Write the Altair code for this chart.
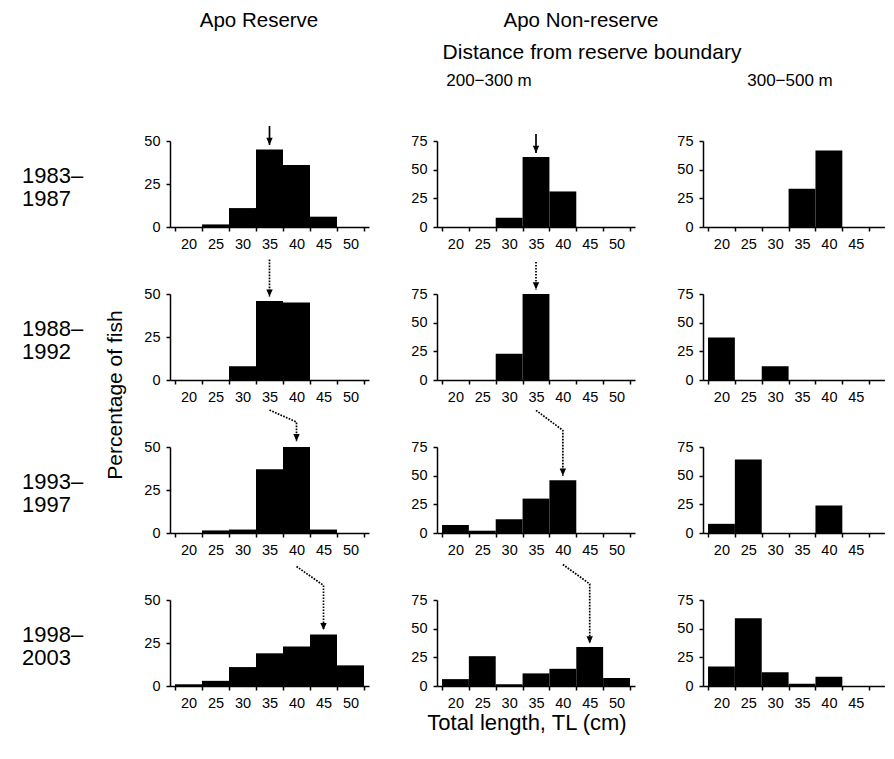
import altair as alt
import pandas as pd

FONT = "Liberation Sans"

bins = [20, 25, 30, 35, 40, 45, 50]
periods = ["1983–\n1987", "1988–\n1992", "1993–\n1997", "1998–\n2003"]

# percentage of fish per 5-cm TL class, one list per period
reserve = [
    [0, 1.5, 11, 45, 36, 6, 0],
    [0, 0, 8, 46, 45, 0, 0],
    [0, 1.5, 2, 37, 52, 2, 0],
    [1, 3, 11, 19, 23, 30, 12],
]
nr_200_300 = [
    [0, 0, 8, 61, 31, 0, 0],
    [0, 0, 23, 75, 0, 0, 0],
    [7, 2, 12, 30, 46, 0, 0],
    [6, 26, 1.5, 11, 15, 34, 7],
]
nr_300_500 = [
    [0, 0, 0, 33.3, 66.7, 0, 0],
    [37, 0, 12, 0, 0, 0, 0],
    [8, 64, 0, 0, 24, 0, 0],
    [17, 59, 12, 2, 8, 0, 0],
]

y_max = [50, 75, 75]
y_ticks = [[0, 25, 50], [0, 25, 50, 75], [0, 25, 50, 75]]
# the right-hand column is cropped at the picture's edge
x_domain = [[17.5, 52.5], [17.5, 52.5], [17.5, 49.4]]
PX_PER_CM = 5.686

# modal-class arrows: (x points, y points, dotted)
arrows_reserve = [
    ([35, 35], [58.7, 47.7], False),
    ([35, 35], [70, 48.5], True),
    ([35, 40, 40], [71.5, 64.5, 53.4], True),
    ([40, 45, 45], [69.5, 58.5, 32.5], True),
]
arrows_nr = [
    ([35, 35], [81, 64.6], False),
    ([35, 35], [103, 79], True),
    ([35, 40, 40], [107, 89.5, 49.9], True),
    ([40, 45, 45], [106, 89, 37], True),
]

PANEL_H = 86
ARROW_HEAD = "M -0.8 -1.8 L 0.8 -1.8 L 0 0 Z"


def text_layer(txt, x, y, size, align="center", angle=0, baseline="middle",
               line_height=22.5):
    kw = dict(fontSize=size, font=FONT, align=align, baseline=baseline,
              color="black", lineBreak="\n", lineHeight=line_height)
    if angle:
        kw["angle"] = angle
    return alt.Chart(pd.DataFrame({"t": [txt]})).mark_text(**kw).encode(
        text="t:N", x=alt.value(x), y=alt.value(y)
    )


def panel(values, col, width, arrow=None, texts=()):
    df = pd.DataFrame({
        "lo": [b - 2.5 for b in bins],
        "hi": [b + 2.5 for b in bins],
        "pct": values,
    })
    lo_d, hi_d = x_domain[col]
    tick_vals = [17.5 + 2.5 * i for i in range(15) if 17.5 + 2.5 * i <= hi_d]
    xscale = alt.Scale(domain=[lo_d, hi_d], nice=False, zero=False)
    yscale = alt.Scale(domain=[0, y_max[col]], nice=False)
    xaxis = alt.Axis(
        values=tick_vals,
        labelExpr="datum.value % 5 == 0 ? '' + datum.value : ''",
        tickOpacity={"condition": {"test": "datum.value % 5 == 0", "value": 0}, "value": 1},
        tickSize=4, labelPadding=6, labelFlush=False, labelOverlap=False,
        labelFontSize=14.5, grid=False, title=None,
    )
    yaxis = alt.Axis(values=y_ticks[col], tickSize=4, labelPadding=6,
                     labelFontSize=14.5, grid=False, title=None, labelFlush=False)
    layers = [
        alt.Chart(df).mark_bar(color="black", strokeWidth=0, orient="vertical",
                               clip=True).encode(
            x=alt.X("lo:Q", scale=xscale, axis=xaxis),
            x2="hi:Q",
            y=alt.Y("pct:Q", scale=yscale, axis=yaxis),
            y2=alt.datum(0),
        )
    ]
    if arrow is not None:
        xs, ys, dotted = arrow
        adf = pd.DataFrame({"ax": xs, "ay": ys, "o": list(range(len(xs)))})
        line_kw = dict(color="black", strokeWidth=1.7)
        if dotted:
            line_kw["strokeDash"] = [1.7, 1.3]
        layers.append(
            alt.Chart(adf).mark_line(**line_kw).encode(
                x=alt.X("ax:Q", scale=xscale, axis=xaxis),
                y=alt.Y("ay:Q", scale=yscale, axis=yaxis),
                order="o:Q",
            )
        )
        hdf = adf.tail(1)
        layers.append(
            alt.Chart(hdf).mark_point(shape=ARROW_HEAD, filled=True, size=64,
                                      color="black", opacity=1).encode(
                x=alt.X("ax:Q", scale=xscale, axis=xaxis),
                y=alt.Y("ay:Q", scale=yscale, axis=yaxis),
            )
        )
    layers.extend(texts)
    return alt.layer(*layers).properties(width=width, height=PANEL_H)


widths = [199, 198, round((x_domain[2][1] - x_domain[2][0]) * PX_PER_CM, 1)]

panels = []
for r in range(4):
    t1 = [text_layer(periods[r], -148, 35, 22, align="left")]
    t2 = []
    t3 = []
    if r == 0:
        t1.append(text_layer("Apo Reserve", 89, -120, 20.5))
        t2.append(text_layer("Apo Non-reserve", 144, -120, 20.5))
        t2.append(text_layer("Distance from reserve boundary", 155, -88, 21))
        t2.append(text_layer("200−300 m", 52, -60, 17))
        t3.append(text_layer("300−500 m", 87, -60, 17))
    if r == 1:
        t1.append(text_layer("Percentage of fish", -54, 101, 21, angle=270))
    if r == 3:
        t2.append(text_layer("Total length, TL (cm)", 90, 123, 22))
    panels.append(panel(reserve[r], 0, widths[0], arrows_reserve[r], t1))
    panels.append(panel(nr_200_300[r], 1, widths[1], arrows_nr[r], t2))
    panels.append(panel(nr_300_500[r], 2, widths[2], None, t3))

chart = (
    alt.concat(*panels, columns=3, spacing={"row": 67, "column": 68},
               bounds="flush", align="each")
    .properties(padding={"left": 14, "top": 3, "right": 0, "bottom": 5},
                background="white")
    .configure_view(stroke=None)
    .configure_axis(
        domainColor="black", domainWidth=1.5, tickColor="black", tickWidth=1.5,
        labelColor="black", labelFont=FONT, labelFontSize=14.5,
    )
)

chart.save("out.html", embed_options={"renderer": "svg", "actions": False})
